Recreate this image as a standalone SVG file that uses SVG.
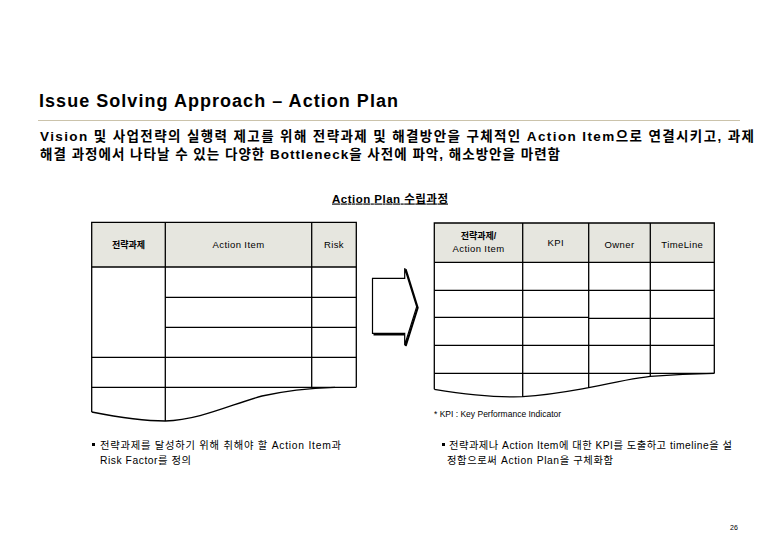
<svg xmlns="http://www.w3.org/2000/svg" width="780" height="540" viewBox="0 0 780 540">
<style>
  text { font-family: "Liberation Sans", "Noto Sans CJK KR", sans-serif; fill: #000; }
  .title { font-size: 18px; font-weight: bold; }
  .sub { font-size: 13.5px; font-weight: bold; }
  .cap { font-size: 11.5px; font-weight: bold; text-decoration: underline; }
  .hd { font-size: 9.5px; text-anchor: middle; letter-spacing: 0.4px; }
  .hdk { font-size: 9px; font-weight: bold; text-anchor: middle; }
  .note { font-size: 10.3px; }
  .small { font-size: 8.5px; }
  .ln { stroke: #000; stroke-width: 1.3; fill: none; }
  .hdfill { fill: #e6e6df; stroke: none; }
</style>
<rect width="780" height="540" fill="#fff"/>

<g id="title">
  <text class="title" x="39" y="107" textLength="359" lengthAdjust="spacing">Issue Solving Approach – Action Plan</text>
  <line x1="38" y1="120.5" x2="740" y2="120.5" stroke="#cbc3ab" stroke-width="1.2"/>
</g>

<g id="subtitle">
  <text class="sub" x="40" y="140.5" textLength="714" lengthAdjust="spacing">Vision 및 사업전략의 실행력 제고를 위해 전략과제 및 해결방안을 구체적인 Action Item으로 연결시키고, 과제</text>
  <text class="sub" x="40" y="158.5" textLength="520" lengthAdjust="spacing">해결 과정에서 나타날 수 있는 다양한 Bottleneck을 사전에 파악, 해소방안을 마련함</text>
</g>

<g id="caption">
  <text class="cap" x="332" y="202.5" textLength="116" lengthAdjust="spacing">Action Plan 수립과정</text>
</g>

<g id="left-table">
  <rect class="hdfill" x="91.7" y="222.3" width="264.6" height="44.7"/>
  <path class="ln" d="M91.7,412 V222.3 H356.3 V387.3"/>
  <line class="ln" x1="165.3" y1="222.3" x2="165.3" y2="421"/>
  <line class="ln" x1="311.7" y1="222.3" x2="311.7" y2="387.3"/>
  <line class="ln" x1="91.7" y1="267" x2="356.3" y2="267"/>
  <line class="ln" x1="165.3" y1="297.3" x2="356.3" y2="297.3"/>
  <line class="ln" x1="165.3" y1="327.3" x2="356.3" y2="327.3"/>
  <line class="ln" x1="91.7" y1="357.3" x2="356.3" y2="357.3"/>
  <line class="ln" x1="91.7" y1="387.3" x2="356.3" y2="387.3"/>
  <path class="ln" d="M91.7,412 C112,416 140,421 165.3,421 C200,420 232,404 262,396 C288,390 312,388 335,387.3"/>
  <text class="hdk" x="128.5" y="247.5">전략과제</text>
  <text class="hd" x="238.5" y="248">Action Item</text>
  <text class="hd" x="334" y="248">Risk</text>
</g>

<g id="connectors">
  <path d="M373.5,334.5 H405.7 V346 L417.7,307.7 L405.7,269.3" fill="none" stroke="#000" stroke-width="2"/>
  <polygon points="372.5,278.3 404.7,278.3 404.7,268.3 416.7,306.7 404.7,345 404.7,333.3 372.5,333.3" fill="#fff" stroke="#000" stroke-width="1.2"/>
</g>

<g id="right-table">
  <rect class="hdfill" x="434.3" y="223" width="280" height="39.3"/>
  <path class="ln" d="M434.3,389.3 V223 H714.3 V373.3"/>
  <line class="ln" x1="522.7" y1="223" x2="522.7" y2="397"/>
  <line class="ln" x1="588.7" y1="223" x2="588.7" y2="388"/>
  <line class="ln" x1="650.3" y1="223" x2="650.3" y2="376"/>
  <line class="ln" x1="434.3" y1="262.3" x2="714.3" y2="262.3"/>
  <line class="ln" x1="434.3" y1="290.3" x2="714.3" y2="290.3"/>
  <path class="ln" d="M434.3,317.3 H588.7 M588.7,318.3 H714.3"/>
  <line class="ln" x1="434.3" y1="345.3" x2="714.3" y2="345.3"/>
  <line class="ln" x1="434.3" y1="373.3" x2="714.3" y2="373.3"/>
  <path class="ln" d="M434.3,389.3 C470,395 500,397.5 522.7,396.7 C550,395 570,391 588.7,387.7 C615,382 635,378 650.3,376.3 C680,374 700,373.5 714.3,373.3"/>
  <text class="hdk" x="478.5" y="239">전략과제/</text>
  <text class="hd" x="478.5" y="252">Action Item</text>
  <text class="hd" x="555.7" y="246">KPI</text>
  <text class="hd" x="619.5" y="247.5">Owner</text>
  <text class="hd" x="682.3" y="247.5">TimeLine</text>
  <text class="small" x="434" y="417">* KPI : Key Performance Indicator</text>
</g>

<g id="note-left">
  <rect x="92" y="443" width="3" height="3" fill="#000"/>
  <text class="note" x="100" y="448.5" textLength="241" lengthAdjust="spacing">전략과제를 달성하기 위해 취해야 할 Action Item과</text>
  <text class="note" x="100" y="463.5" textLength="91" lengthAdjust="spacing">Risk Factor를 정의</text>
</g>

<g id="note-right">
  <rect x="442" y="443" width="3" height="3" fill="#000"/>
  <text class="note" x="449" y="448.5" textLength="283" lengthAdjust="spacing">전략과제나 Action Item에 대한 KPI를 도출하고 timeline을 설</text>
  <text class="note" x="447" y="463.5" textLength="166" lengthAdjust="spacing">정함으로써 Action Plan을 구체화함</text>
</g>

<g id="page-number">
  <text x="730" y="530" style="font-size:7px">26</text>
</g>
</svg>
